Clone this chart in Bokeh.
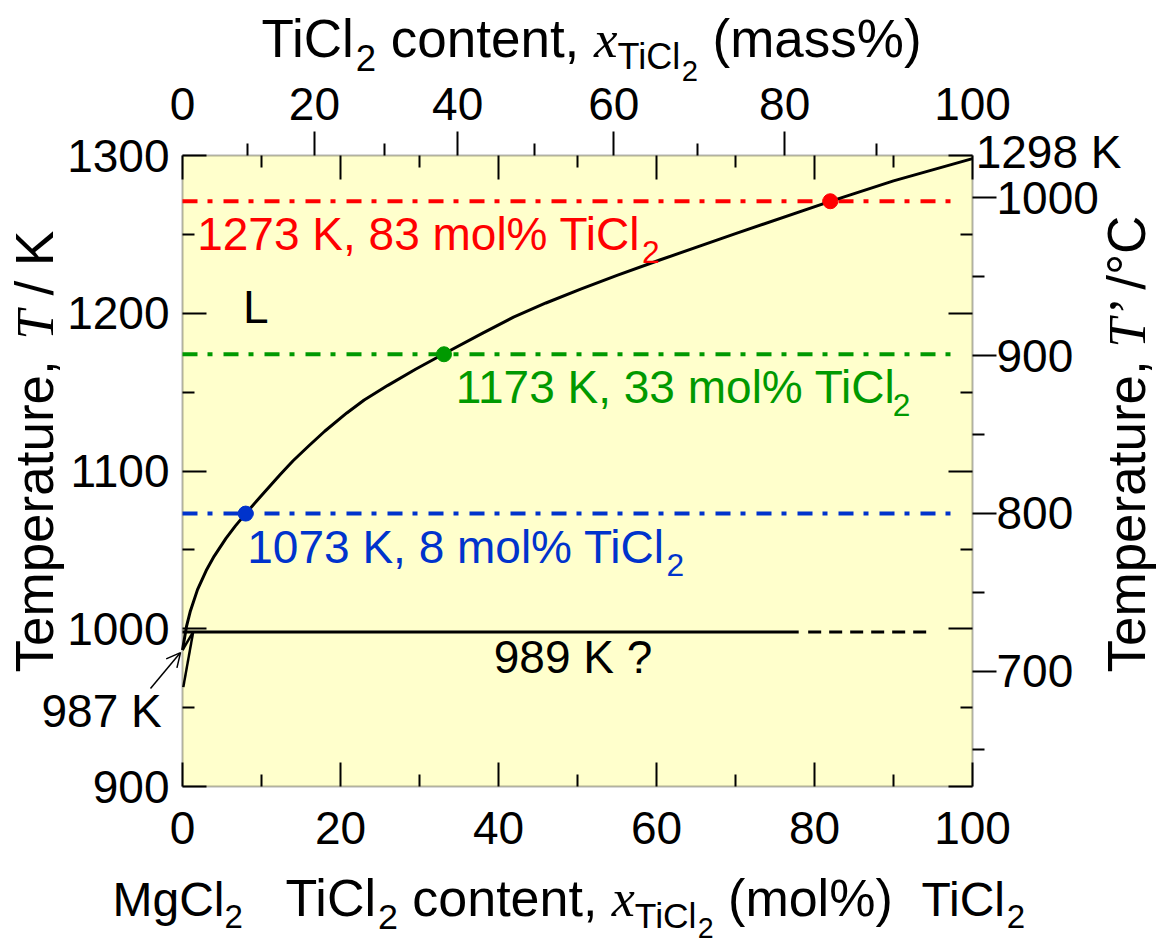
import math
from bokeh.plotting import figure
from bokeh.models import (LinearAxis, Range1d, FixedTicker, Label, Arrow, OpenHead,
                          ColumnDataSource, BoxAnnotation)
from bokeh.embed import file_html
from bokeh.resources import INLINE

# ---------------- data ----------------
liq_x = [0.0, 0.5, 1.0, 1.9, 3.0, 4.0, 5.5, 6.7, 8.0, 10.0, 12.4, 14.0, 16.0, 18.0, 20.8,
         23.0, 26.0, 29.5, 33.1, 38.0, 41.9, 46.0, 50.4, 55.0, 60.5, 70.0, 82.0, 90.0, 100.0]
liq_T = [986.5, 1001.3, 1011.3, 1024.8, 1036.9, 1045.9, 1057.3, 1065.2, 1073.0, 1084.5,
         1098.0, 1106.5, 1116.0, 1125.2, 1136.8, 1145.0, 1154.3, 1164.5, 1174.3, 1187.4,
         1197.5, 1206.5, 1215.3, 1224.0, 1233.9, 1250.5, 1270.9, 1283.9, 1298.0]
sol_a_x = [0.0, 1.35]
sol_a_T = [986.5, 998.0]
sol_b_x = [0.1, 1.35]
sol_b_T = [963.0, 998.0]
eut_solid_x = [0.0, 78.0]
eut_dash_x = [79.2, 94.7]
eut_T = [998.0, 998.0]
iso_T = [1271.0, 1174.0, 1073.0]
iso_x0 = [0.0, 0.0, 0.0]
iso_x1 = [98.5, 98.5, 98.5]
iso_colors = ["#FF0000", "#009900", "#0033CC"]
pt_x = [82.0, 33.1, 8.0]
pt_T = [1271.0, 1174.0, 1073.0]

mol_ticks = [0, 20, 40, 60, 80, 100]
mol_minor = [10, 30, 50, 70, 90]
K_ticks = [900, 1000, 1100, 1200, 1300]
K_minor = [950, 1050, 1150, 1250]
C_ticks = [700, 800, 900, 1000]
C_minor = [650, 750, 850, 950]
mass_labels = [0, 20, 40, 60, 80, 100]
mass_major = [20, 40, 60, 80]
mass_minor = [10, 30, 50, 70, 90]
M_MgCl2 = 95.21
M_TiCl2 = 118.77


def mass_to_mol(w):
    a = w / M_TiCl2
    b = (100.0 - w) / M_MgCl2
    return 100.0 * a / (a + b)


SANS = "Liberation Sans"
SERIF = "Liberation Serif"
W_SANS = {' ': 278, ',': 278, '%': 889, '(': 333, ')': 333, '/': 278, '?': 556,
          'C': 722, 'K': 667, 'L': 556, 'M': 833, 'T': 611, 'a': 556, 'c': 500,
          'e': 556, 'g': 556, 'i': 222, 'l': 222, 'm': 833, 'n': 556, 'o': 556,
          'p': 556, 'r': 333, 's': 500, 't': 278, 'u': 556, '\u00b0': 400}
W_SERIF_I = {'x': 444, 'T': 556, '\u2019': 333, ' ': 250}

# page geometry of the diagram box (px); the plot frame covers the whole canvas
W, H = 1157, 946
FL, FR, FT, FB = 182.0, 972.0, 155.0, 786.0
KX = (FR - FL) / 100.0
KY = (FB - FT) / 400.0
XMIN, XMAX = -FL / KX, 100.0 + (W - FR) / KX
YMIN, YMAX = 900.0 - (H - FB) / KY, 1300.0 + FT / KY


def px2x(px):
    return (px - FL) / KX


def py2y(py):
    return 900.0 + (FB - py) / KY


p = figure(x_range=Range1d(XMIN, XMAX), y_range=Range1d(YMIN, YMAX),
           width=W, height=H, min_border=0,
           x_axis_type=None, y_axis_type=None,
           output_backend="svg", toolbar_location=None)
p.extra_y_ranges = {"C": Range1d(YMIN - 273.15, YMAX - 273.15)}
p.background_fill_color = "white"
p.border_fill_color = "white"
p.outline_line_color = None

p.add_layout(BoxAnnotation(left=0, right=100, bottom=900, top=1300,
                           fill_color="#FFFFCC", fill_alpha=1.0,
                           line_color="black", line_width=2, level="underlay"))


def style_axis(ax, tin, tout, mtin, mtout, labels=True, standoff=10):
    ax.axis_line_color = None
    ax.major_tick_line_color = "black"
    ax.minor_tick_line_color = "black"
    ax.major_tick_line_width = 2
    ax.minor_tick_line_width = 2
    ax.major_tick_in = tin
    ax.major_tick_out = tout
    ax.minor_tick_in = mtin
    ax.minor_tick_out = mtout
    ax.major_label_text_font = SANS
    ax.major_label_text_font_size = "46px"
    ax.major_label_text_color = "black" if labels else None
    ax.major_label_standoff = standoff
    return ax


# bottom (mol%)
ax = LinearAxis(ticker=FixedTicker(ticks=mol_ticks, minor_ticks=mol_minor), fixed_location=900)
p.add_layout(style_axis(ax, 24, 0, 12, 0, True, 25), "below")
# top mirror (mol%) inside
ax = LinearAxis(ticker=FixedTicker(ticks=mol_ticks, minor_ticks=mol_minor), fixed_location=1300)
p.add_layout(style_axis(ax, 24, 0, 12, 0, False), "above")
# top mass% ticks outside
ax = LinearAxis(ticker=FixedTicker(ticks=[mass_to_mol(w) for w in mass_major],
                                   minor_ticks=[mass_to_mol(w) for w in mass_minor]),
                fixed_location=1300)
p.add_layout(style_axis(ax, 0, 24, 0, 12, False), "above")
# top mass% labels
mt = [mass_to_mol(w) for w in mass_labels]
ax = LinearAxis(ticker=FixedTicker(ticks=mt, minor_ticks=[]), fixed_location=1300)
style_axis(ax, 0, 0, 0, 0, True, 36)
ax.major_label_overrides = {t: str(w) for t, w in zip(mt, mass_labels)}
p.add_layout(ax, "above")
# left K
ax = LinearAxis(ticker=FixedTicker(ticks=K_ticks, minor_ticks=K_minor), fixed_location=0)
p.add_layout(style_axis(ax, 24, 0, 12, 0, True, 13), "left")
# right K mirror
ax = LinearAxis(ticker=FixedTicker(ticks=K_ticks, minor_ticks=K_minor), fixed_location=100)
p.add_layout(style_axis(ax, 24, 0, 12, 0, False), "right")
# right Celsius
ax = LinearAxis(y_range_name="C", ticker=FixedTicker(ticks=C_ticks, minor_ticks=C_minor),
                fixed_location=100)
p.add_layout(style_axis(ax, 0, 24, 0, 12, True, 0), "right")

# ---------------- marks ----------------
iso_src = ColumnDataSource(dict(x0=iso_x0, x1=iso_x1, y=iso_T, c=iso_colors))
p.segment(x0="x0", x1="x1", y0="y", y1="y", color="c", line_width=4,
          line_dash="15 10 5 11", source=iso_src)
p.line(liq_x, liq_T, line_width=3, color="black", line_join="round")
p.line(sol_a_x, sol_a_T, line_width=2.5, color="black")
p.line(sol_b_x, sol_b_T, line_width=2.5, color="black")
p.line(eut_solid_x, eut_T, line_width=3, color="black")
p.line(eut_dash_x, eut_T, line_width=3, color="black", line_dash="13 8")
p.scatter(pt_x, pt_T, size=15, color=iso_colors)

p.add_layout(Arrow(x_start=-4.05, y_start=962.1, x_end=-0.25, y_end=984.9,
                   line_width=1.5, end=OpenHead(size=14, line_width=1.5)))


def width_em(txt, font):
    table = W_SERIF_I if font == SERIF else W_SANS
    return sum(table.get(c, 556) for c in txt) / 1000.0


MID = 0.35  # distance from baseline to the middle of the text box (em)


def compose(pieces, x, y, color="black", angle=0.0):
    """x, y: data position of the baseline start of the first piece."""
    adv = 0.0
    for txt, font, size, drop, *extra in pieces:
        if extra:
            adv += extra[0]
        lead = len(txt) - len(txt.lstrip(' '))
        core = txt.strip(' ')
        off = adv + lead * width_em(' ', font) * size
        down = drop - MID * size
        if core:
            if angle == 0.0:
                xo, yo = off, -down
            else:
                xo, yo = down, off
            p.add_layout(Label(x=x, y=y, x_offset=xo, y_offset=yo, text=core,
                               text_font=font, text_font_size=f"{size:.1f}px",
                               text_font_style="italic" if font == SERIF else "normal",
                               text_color=color, angle=angle,
                               text_baseline="middle", text_align="left"))
        adv += width_em(txt, font) * size


F = 46
TF = 53
BF = 52

compose([("1273 K, 83 mol% TiCl", SANS, F, 0), ("2", SANS, 0.69 * F, 0.28 * F)],
        1.86, 1240.0, "#FF0000")
compose([("1173 K, 33 mol% TiCl", SANS, F, 0), ("2", SANS, 0.69 * F, 0.28 * F, -8)],
        34.6, 1143.0, "#009900")
compose([("1073 K, 8 mol% TiCl", SANS, F, 0), ("2", SANS, 0.69 * F, 0.28 * F)],
        8.2, 1041.5, "#0033CC")
compose([("L", SANS, F, 0)], 7.67, 1193.5)
compose([("989 K ?", SANS, F, 0)], 39.4, 971.6)
compose([("1298 K", SANS, F, 0)], 100.4, 1291.8)
compose([("987 K", SANS, F, 0)], -17.85, 937.4)


def tisub(f):
    return [("2", SANS, 0.69 * f, 0.25 * f)]


def xsub(f, d2):
    return [("x", SERIF, f, 0), ("TiCl", SANS, 0.68 * f, 0.22 * f),
            ("2", SANS, 0.55 * f, d2 * f)]


compose([("TiCl", SANS, TF, 0)] + tisub(TF) + [(" content, ", SANS, TF, 0)] +
        xsub(TF, 0.45) + [(" (mass%)", SANS, TF, 0)], px2x(261), py2y(57))
compose([("MgCl", SANS, 48, 0)] + tisub(48), px2x(112), py2y(916))
compose([("TiCl", SANS, BF, 0)] + tisub(BF) + [(" content, ", SANS, BF, 0)] +
        xsub(BF, 0.41) + [(" (mol%)", SANS, BF, 0)], px2x(285), py2y(916))
compose([("TiCl", SANS, 48, 0)] + tisub(48), px2x(921), py2y(916))

compose([("Temperature, ", SANS, TF, 0), ("T", SERIF, TF, 0), (" / K", SANS, TF, 0)],
        px2x(53), py2y(672), angle=math.pi / 2)
compose([("Temperature, ", SANS, TF, 0), ("T\u2019", SERIF, TF, 0, -8),
         (" /\u00b0C", SANS, TF, 0, -4)],
        px2x(1145), py2y(672), angle=math.pi / 2)

open("out.html", "w").write(file_html(p, INLINE))
